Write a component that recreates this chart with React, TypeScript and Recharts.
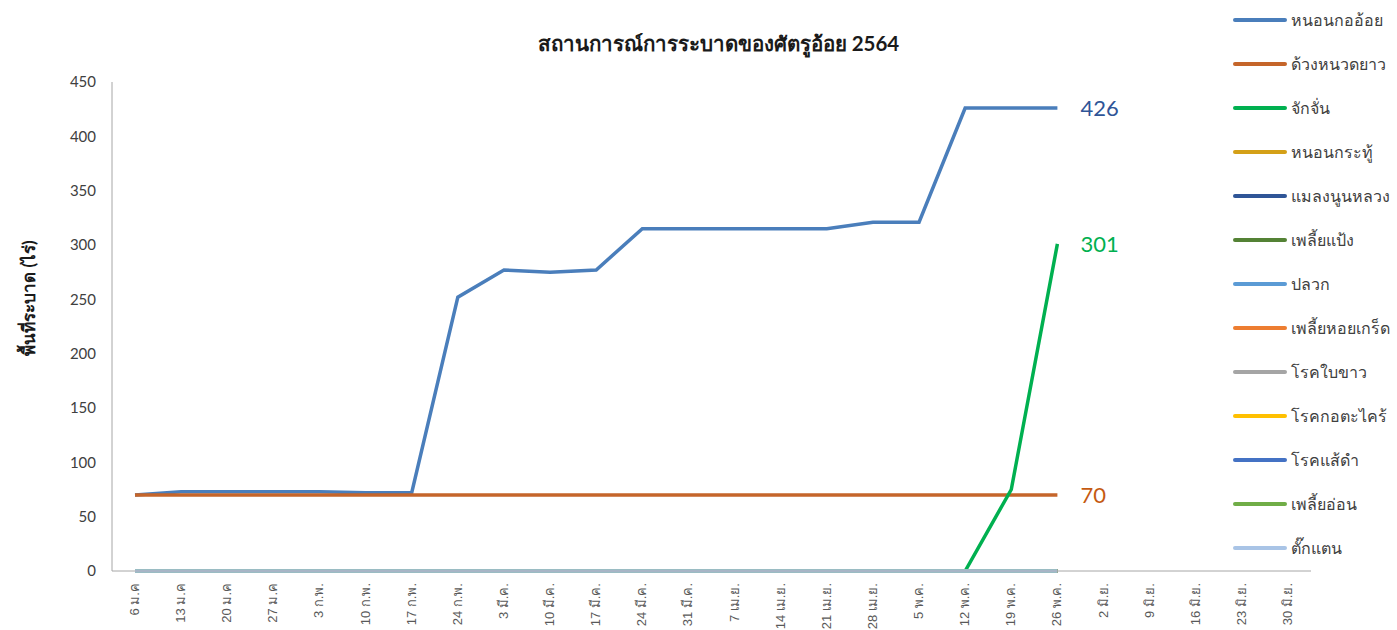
import React from 'react';
import { LineChart, Line, XAxis, YAxis, LabelList } from 'recharts';

const weeks = [
  '6 ม.ค', '13 ม.ค', '20 ม.ค', '27 ม.ค', '3 ก.พ.', '10 ก.พ.', '17 ก.พ.', '24 ก.พ.',
  '3 มี.ค.', '10 มี.ค.', '17 มี.ค.', '24 มี.ค.', '31 มี.ค.', '7 เม.ย.', '14 เม.ย.',
  '21 เม.ย.', '28 เม.ย.', '5 พ.ค.', '12 พ.ค.', '19 พ.ค.', '26 พ.ค.',
  '2 มิ.ย.', '9 มิ.ย.', '16 มิ.ย.', '23 มิ.ย.', '30 มิ.ย.',
];

const stemBorer = [70, 73, 73, 73, 73, 72, 72, 252, 277, 275, 277, 315, 315, 315, 315, 315, 321, 321, 426, 426, 426];
const longhornBeetle = [70, 70, 70, 70, 70, 70, 70, 70, 70, 70, 70, 70, 70, 70, 70, 70, 70, 70, 70, 70, 70];
const cicada = [0, 0, 0, 0, 0, 0, 0, 0, 0, 0, 0, 0, 0, 0, 0, 0, 0, 0, 0, 75, 301];
const zeros = [0, 0, 0, 0, 0, 0, 0, 0, 0, 0, 0, 0, 0, 0, 0, 0, 0, 0, 0, 0, 0];

const yTicks = [0, 50, 100, 150, 200, 250, 300, 350, 400, 450];

const series = [
  { key: 's1', name: 'หนอนกออ้อย', color: '#4A7EBB', values: stemBorer, labelColor: '#2F5597' },
  { key: 's2', name: 'ด้วงหนวดยาว', color: '#C5652A', values: longhornBeetle, labelColor: '#C55A11' },
  { key: 's3', name: 'จักจั่น', color: '#00B050', values: cicada, labelColor: '#00B050' },
  { key: 's4', name: 'หนอนกระทู้', color: '#D4A017', values: zeros },
  { key: 's5', name: 'แมลงนูนหลวง', color: '#2F5597', values: zeros },
  { key: 's6', name: 'เพลี้ยแป้ง', color: '#548235', values: zeros },
  { key: 's7', name: 'ปลวก', color: '#5B9BD5', values: zeros },
  { key: 's8', name: 'เพลี้ยหอยเกร็ด', color: '#ED7D31', values: zeros },
  { key: 's9', name: 'โรคใบขาว', color: '#A5A5A5', values: zeros },
  { key: 's10', name: 'โรคกอตะไคร้', color: '#FFC000', values: zeros },
  { key: 's11', name: 'โรคแส้ดำ', color: '#4472C4', values: zeros },
  { key: 's12', name: 'เพลี้ยอ่อน', color: '#70AD47', values: zeros },
  { key: 's13', name: 'ตั๊กแตน', color: '#A9C4E6', values: zeros },
];

const data = weeks.map((w, i) => {
  const row: Record<string, string | number | null> = { week: w };
  series.forEach(s => {
    row[s.key] = i < s.values.length ? s.values[i] : null;
  });
  return row;
});

const lastIdx = stemBorer.length - 1;
const FONT = "Lato, 'Noto Sans', 'DejaVu Sans', sans-serif";

const XTick = (props: any) => {
  const { x, y, payload } = props;
  return (
    <text
      x={x}
      y={y}
      dy={4}
      transform={`rotate(-90 ${x} ${y})`}
      textAnchor="end"
      fontSize={13}
      fill="#595959"
      fontFamily="'Liberation Sans', sans-serif"
    >
      {payload.value}
    </text>
  );
};

const endLabel = (color: string) => (props: any) => {
  const { x, y, value, index } = props;
  if (index !== lastIdx) return null;
  return (
    <text x={x + 23} y={y} dy={8} fontSize={22} fill={color} fontFamily={FONT}>
      {value}
    </text>
  );
};

export default function App() {
  return (
    <div style={{ position: 'fixed', left: 0, top: 0, width: 1397, height: 630, background: '#fff', overflow: 'hidden', fontFamily: FONT }}>
      <div style={{ position: 'absolute', left: 0, width: 1437, top: 27, textAlign: 'center', fontSize: 20.5, fontWeight: 'bold', color: '#1a1a1a' }}>
        สถานการณ์การระบาดของศัตรูอ้อย 2564
      </div>
      <div style={{ position: 'absolute', left: 28, top: 298, width: 0, height: 0 }}>
        <div style={{ position: 'absolute', transform: 'translate(-50%, -50%) rotate(-90deg)', whiteSpace: 'nowrap', fontSize: 17, fontWeight: 'bold', color: '#1a1a1a' }}>
          พื้นที่ระบาด (ไร่)
        </div>
      </div>
      <LineChart width={1397} height={630} data={data} margin={{ top: 82, right: 86, bottom: 0, left: 0 }}>
        <XAxis
          dataKey="week"
          interval={0}
          height={59}
          padding={{ left: 23, right: 23 }}
          tick={<XTick />}
          tickLine={false}
          tickMargin={6}
          stroke="#A6A6A6"
        />
        <YAxis
          domain={[0, 450]}
          ticks={yTicks}
          width={112}
          tickLine={false}
          tickMargin={10}
          stroke="#A6A6A6"
          tick={{ fontSize: 15, fill: '#404040', fontFamily: FONT }}
        />
        {series.map(s => (
          <Line
            key={s.key}
            dataKey={s.key}
            name={s.name}
            stroke={s.color}
            strokeWidth={3.5}
            dot={false}
            activeDot={false}
            isAnimationActive={false}
            connectNulls={false}
          >
            {s.labelColor && <LabelList dataKey={s.key} content={endLabel(s.labelColor)} />}
          </Line>
        ))}
      </LineChart>
      <div style={{ position: 'absolute', left: 1233, top: 0 }}>
        {series.map((s, i) => (
          <div key={s.key} style={{ position: 'absolute', top: 20 + i * 44 - 10, left: 0, height: 20, display: 'flex', alignItems: 'center', whiteSpace: 'nowrap' }}>
            <div style={{ width: 54, height: 4, borderRadius: 2, background: s.color, marginRight: 4 }} />
            <span style={{ fontSize: 16, color: '#404040' }}>{s.name}</span>
          </div>
        ))}
      </div>
    </div>
  );
}
